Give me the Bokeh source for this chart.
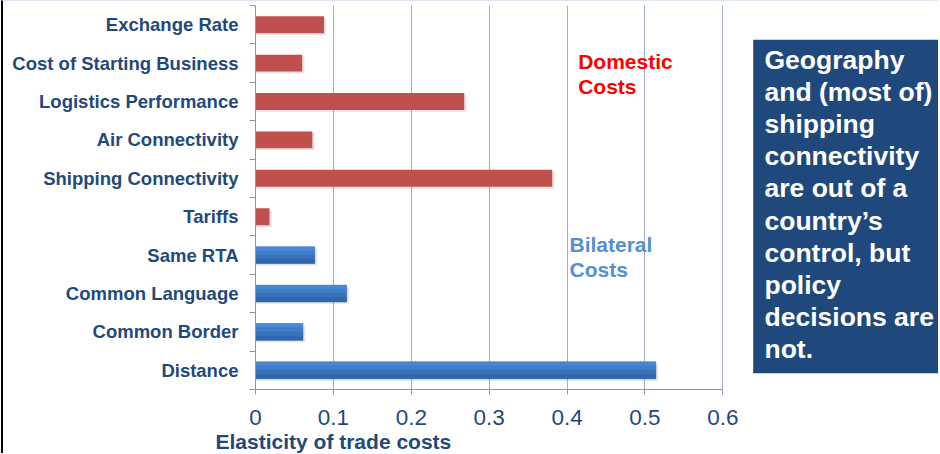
from bokeh.plotting import figure
from bokeh.models import (Range1d, FixedTicker, NumeralTickFormatter, Label,
                          BoxAnnotation, ColumnDataSource, Title)
from bokeh.embed import file_html
from bokeh.resources import INLINE

# Elasticity of trade costs by factor (bottom to top)
categories = ["Distance", "Common Border", "Common Language", "Same RTA",
              "Tariffs", "Shipping Connectivity", "Air Connectivity",
              "Logistics Performance", "Cost of Starting Business", "Exchange Rate"]
elasticity = [0.514, 0.061, 0.117, 0.076, 0.018, 0.381, 0.073, 0.268, 0.060, 0.088]
group = ["Bilateral", "Bilateral", "Bilateral", "Bilateral",
         "Domestic", "Domestic", "Domestic", "Domestic", "Domestic", "Domestic"]
x_ticks = [0, 0.1, 0.2, 0.3, 0.4, 0.5, 0.6]
box_lines = ["Geography", "and (most of)", "shipping", "connectivity",
             "are out of a", "country\u2019s", "control, but", "policy",
             "decisions are", "not."]

NAVY = "#1F497D"
RED = "#C0504D"
AXIS = "#8A93B4"
GRID = "#A4ACC8"
FONT = "Liberation Sans"
# top-to-bottom shading of the bilateral bars
BLUE_BANDS = ["#4A88D4", "#427DC8", "#3A72BA", "#3266AC"]
BAR_H = 0.44

pos = list(range(1, len(categories) + 1))
colors = [BLUE_BANDS[2] if g == "Bilateral" else RED for g in group]
src = ColumnDataSource(dict(y=pos, v=elasticity, c=colors))
blue_y = [p for p, g in zip(pos, group) if g == "Bilateral"]
blue_v = [e for e, g in zip(elasticity, group) if g == "Bilateral"]

FRAME_W = 937 - 252
x_end = FRAME_W / (719.3 - 252) * x_ticks[-1]

p = figure(width=937, height=453, output_backend="svg", toolbar_location=None,
           x_range=Range1d(0, x_end), y_range=Range1d(0.5, len(categories) + 0.5),
           min_border_left=252, min_border_right=0, min_border_top=4,
           min_border_bottom=65)
p.styles = {"margin-left": "1px", "border-left": "2px solid #000000",
            "border-top": "1px solid #DDE6F2"}
p.outline_line_color = None
p.background_fill_color = "white"
p.border_fill_color = "white"

# bars: soft shadow, body, shaded bands on bilateral bars
p.hbar(y=[y - 0.05 for y in pos], right=[v + 0.003 for v in elasticity],
       left=0, height=BAR_H, fill_color="#7F7F7F", fill_alpha=0.2, line_color=None)
p.hbar(y="y", right="v", left=0, height=BAR_H, source=src,
       fill_color="c", line_color=None)
band_h = BAR_H / len(BLUE_BANDS)
for k, col in enumerate(BLUE_BANDS):
    off = BAR_H / 2 - band_h * (k + 0.5)
    p.hbar(y=[y + off for y in blue_y], right=blue_v, left=0, height=band_h,
           fill_color=col, line_color=col, line_width=0.5)

# x axis
xa = p.xaxis[0]
xa.ticker = FixedTicker(ticks=x_ticks)
xa.bounds = (x_ticks[0], x_ticks[-1])
xa.formatter = NumeralTickFormatter(format="0.[0]")
xa.axis_line_color = AXIS
xa.major_tick_line_color = AXIS
xa.major_tick_out = 5
xa.major_tick_in = 0
xa.minor_tick_line_color = None
xa.major_label_standoff = 15
xa.major_label_text_font = FONT
xa.major_label_text_font_size = "22.5px"
xa.major_label_text_color = NAVY

# y axis: category names at bar centres, ticks at category boundaries
ya = p.yaxis[0]
ya.ticker = FixedTicker(ticks=pos,
                        minor_ticks=[i + 0.5 for i in range(len(categories) + 1)])
ya.major_label_overrides = {pp: c for pp, c in zip(pos, categories)}
ya.axis_line_color = AXIS
ya.major_tick_line_color = None
ya.major_tick_out = 0
ya.major_tick_in = 0
ya.minor_tick_line_color = AXIS
ya.minor_tick_out = 6
ya.minor_tick_in = 0
ya.major_label_standoff = 11
ya.major_label_text_font = FONT
ya.major_label_text_font_style = "bold"
ya.major_label_text_font_size = "18.5px"
ya.major_label_text_color = NAVY

p.xgrid.ticker = FixedTicker(ticks=x_ticks[1:])
p.xgrid.grid_line_color = GRID
p.ygrid.visible = False

# axis title, left-aligned under the first ticks
p.add_layout(Title(text="Elasticity of trade costs", align="left", offset=-40,
                   standoff=0, text_font=FONT, text_font_style="bold",
                   text_font_size="21px", text_color=NAVY), "below")

# group annotations
for txt, x, y, col in [("Domestic", 322.7, 328, "#FF0000"), ("Costs", 322.7, 303, "#FF0000"),
                       ("Bilateral", 314, 145, "#558ED5"), ("Costs", 314, 120, "#558ED5")]:
    p.add_layout(Label(x=x, y=y, x_units="screen", y_units="screen", text=txt,
                       text_baseline="alphabetic", text_font=FONT,
                       text_font_style="bold", text_font_size="21px",
                       text_color=col))

# side note box
p.add_layout(BoxAnnotation(left=497.7, right=FRAME_W, bottom=16.3, top=349.7,
                           left_units="screen", right_units="screen",
                           bottom_units="screen", top_units="screen",
                           fill_color=NAVY, fill_alpha=1.0, line_color=None,
                           level="annotation"))
for i, line in enumerate(box_lines):
    p.add_layout(Label(x=509, y=330 - 32.2 * i, x_units="screen", y_units="screen",
                       text=line, text_baseline="alphabetic", text_font=FONT,
                       text_font_style="bold", text_font_size="26.5px",
                       text_color="white"))

open("out.html", "w").write(file_html(p, INLINE))
